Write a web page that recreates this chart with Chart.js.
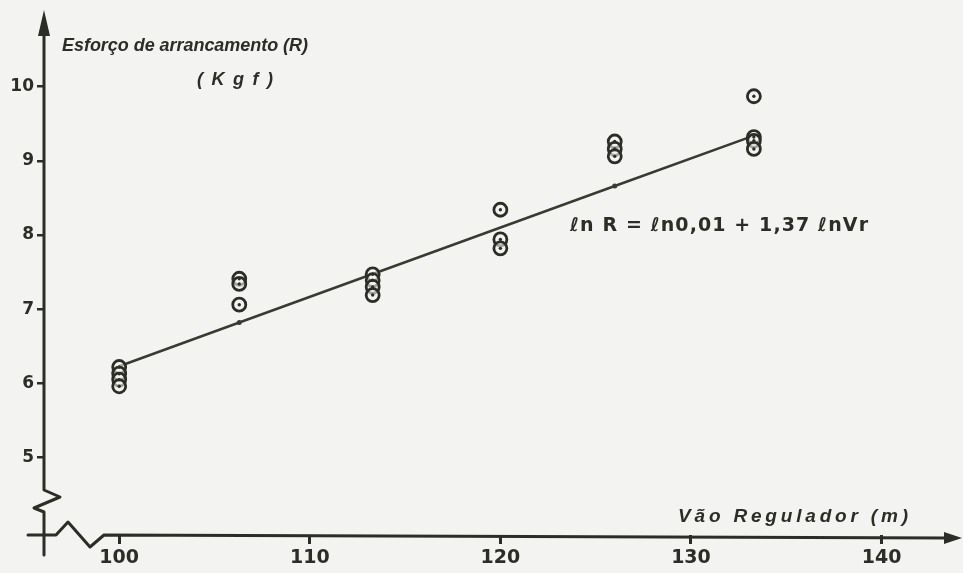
<!DOCTYPE html>
<html>
<head>
<meta charset="utf-8">
<script src="https://cdn.jsdelivr.net/npm/chart.js@4.4.1/dist/chart.umd.min.js"></script>
<style>
  html, body { margin: 0; padding: 0; background: #f3f3f2; }
  #wrap { width: 963px; height: 573px; position: relative; }
</style>
</head>
<body>
<div id="wrap"><canvas id="c" width="963" height="573"></canvas></div>
<script>
// ---- data ----
const xTicks = [100, 110, 120, 130, 140];
const yTicks = [5, 6, 7, 8, 9, 10];
const obsX = [100, 100, 100, 100, 106.3, 106.3, 106.3, 113.3, 113.3, 113.3, 113.3, 120, 120, 120, 126, 126, 126, 133.3, 133.3, 133.3, 133.3];
const obsR = [6.22, 6.13, 6.05, 5.96, 7.41, 7.34, 7.06, 7.47, 7.39, 7.30, 7.19, 8.34, 7.94, 7.82, 9.26, 9.16, 9.06, 9.87, 9.32, 9.27, 9.16];
const fitX = [100, 106.3, 126, 133.3];
const fitR = [6.23, 6.82, 8.66, 9.34];
const yTitle = ['Esforço de arrancamento (R)', '(Kgf)'];
const xTitle = 'Vão Regulador (m)';
const equation = 'ℓn R = ℓn0,01 + 1,37 ℓnVr';

const INK = '#2d2d27';
const obsPts = obsX.map((x, i) => ({ x, y: obsR[i] }));
const fitPts = fitX.map((x, i) => ({ x, y: fitR[i] }));

function spacedText(ctx, text, x, y, width, font) {
  ctx.save();
  ctx.font = font;
  ctx.letterSpacing = '0px';
  const w = ctx.measureText(text).width;
  const n = Math.max(1, text.length - 1);
  ctx.letterSpacing = ((width - w) / n) + 'px';
  ctx.textAlign = 'left';
  ctx.textBaseline = 'middle';
  ctx.fillStyle = INK;
  ctx.fillText(text, x, y);
  ctx.restore();
}

const decor = {
  id: 'decor',
  beforeDraw(chart) {
    const { ctx } = chart;
    ctx.save();
    ctx.fillStyle = '#f3f3f2';
    ctx.fillRect(0, 0, chart.width, chart.height);
    ctx.restore();
  },
  afterDraw(chart) {
    const { ctx, chartArea: a } = chart;
    const x0 = a.left, yb = a.bottom;
    ctx.save();
    ctx.strokeStyle = INK;
    ctx.fillStyle = INK;
    ctx.lineWidth = 3;
    ctx.lineJoin = 'round';
    ctx.lineCap = 'round';
    // y axis with break
    ctx.beginPath();
    ctx.moveTo(x0, 30);
    ctx.lineTo(x0, 490);
    ctx.lineTo(x0 + 16, 497);
    ctx.lineTo(x0 - 10, 508);
    ctx.lineTo(x0, 512);
    ctx.lineTo(x0, 555);
    ctx.stroke();
    // y arrow
    ctx.beginPath();
    ctx.moveTo(x0, 10);
    ctx.lineTo(x0 - 6, 36);
    ctx.lineTo(x0 + 6, 36);
    ctx.closePath();
    ctx.fill();
    // x axis with break
    ctx.beginPath();
    ctx.moveTo(28, yb);
    ctx.lineTo(56, yb);
    ctx.lineTo(68, yb - 13);
    ctx.lineTo(90, yb + 12);
    ctx.lineTo(104, yb);
    ctx.lineTo(948, yb + 3);
    ctx.stroke();
    // x arrow
    ctx.beginPath();
    ctx.moveTo(962, yb + 3);
    ctx.lineTo(944, yb - 3);
    ctx.lineTo(944, yb + 9);
    ctx.closePath();
    ctx.fill();
    ctx.restore();

    // titles
    const tf = 'italic bold 18px "Liberation Sans"';
    spacedText(ctx, yTitle[0], 62, 46, 246, tf);
    spacedText(ctx, yTitle[1], 197, 80, 76, tf);
    spacedText(ctx, xTitle, 678, 517, 230, 'italic bold 19px "Liberation Sans"');
    spacedText(ctx, equation, 570, 226, 298, 'bold 19px "DejaVu Sans"');
  }
};

const tickFont = { family: '"DejaVu Sans"', weight: 'bold', size: 19 };

new Chart(document.getElementById('c'), {
  type: 'scatter',
  data: {
    datasets: [
      {
        type: 'line',
        data: fitPts,
        borderColor: '#3a3a32',
        borderWidth: 2.5,
        pointRadius: [0, 2.5, 2.5, 0],
        pointBackgroundColor: '#3a3a32',
        pointBorderWidth: 0,
        tension: 0,
        fill: false,
        order: 3
      },
      {
        data: obsPts,
        pointStyle: 'circle',
        pointRadius: 6.5,
        pointBorderWidth: 2.8,
        pointBorderColor: INK,
        pointBackgroundColor: 'rgba(243,243,242,0.6)',
        order: 2
      },
      {
        data: obsPts,
        pointStyle: 'circle',
        pointRadius: 1.7,
        pointBorderWidth: 0,
        pointBackgroundColor: INK,
        order: 1
      }
    ]
  },
  options: {
    responsive: false,
    animation: false,
    layout: { padding: { top: 10, right: 13, left: 0, bottom: 0 } },
    plugins: { legend: { display: false }, tooltip: { enabled: false } },
    scales: {
      x: {
        type: 'linear',
        min: 96.055,
        max: 143.59,
        afterBuildTicks: (s) => { s.ticks = xTicks.map(v => ({ value: v })); },
        afterFit: (s) => { s.height = 38; },
        border: { display: false },
        grid: { drawOnChartArea: false, drawTicks: true, tickLength: 9, lineWidth: 3, color: INK },
        ticks: { color: INK, font: tickFont, padding: 3, maxRotation: 0, autoSkip: false }
      },
      y: {
        type: 'linear',
        min: 3.955,
        max: 10.99,
        afterBuildTicks: (s) => { s.ticks = yTicks.map(v => ({ value: v })); },
        afterFit: (s) => { s.width = 44; },
        border: { display: false },
        grid: { drawOnChartArea: false, drawTicks: true, tickLength: 7, lineWidth: 2.5, color: INK },
        ticks: { color: INK, font: { family: '"DejaVu Sans"', weight: 'bold', size: 17 }, padding: 3, autoSkip: false }
      }
    }
  },
  plugins: [decor]
});
</script>
</body>
</html>
